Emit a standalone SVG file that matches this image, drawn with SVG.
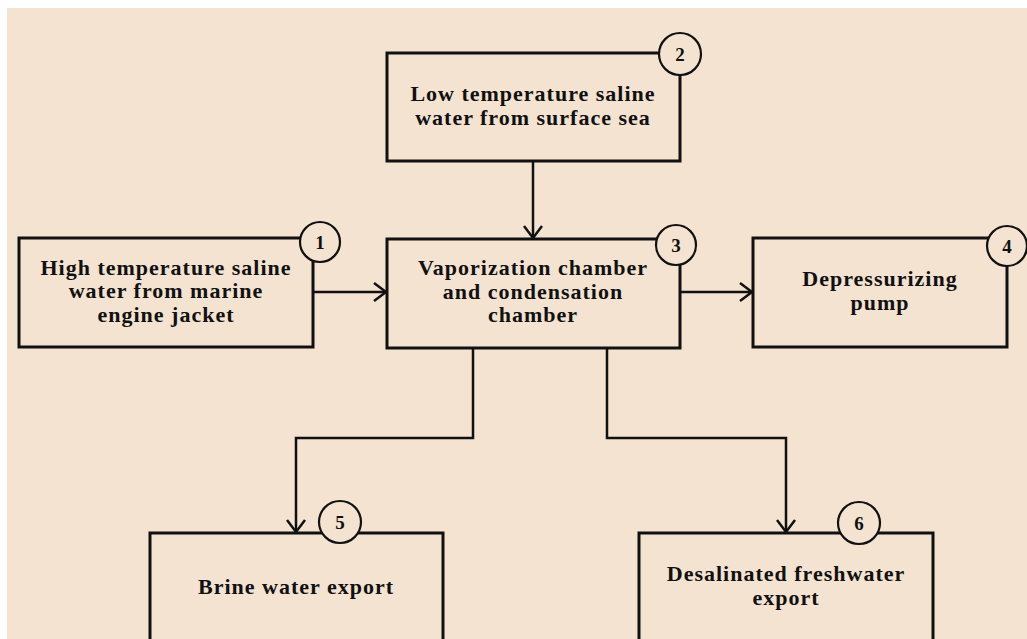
<svg xmlns="http://www.w3.org/2000/svg" width="1027" height="639" viewBox="0 0 1027 639">
<style>
.box{fill:none;stroke:#111;stroke-width:3}
.num{fill:#F4E3D0;stroke:#111;stroke-width:2.2}
.t{font-family:"Liberation Serif","Times New Roman",serif;font-weight:bold;font-size:22px;letter-spacing:1px;fill:#111;text-anchor:middle}
.n{font-family:"Liberation Serif","Times New Roman",serif;font-weight:bold;font-size:19px;fill:#111;text-anchor:middle}
.c{fill:none;stroke:#111;stroke-width:2.5}
</style>
<defs>
<marker id="ah" markerUnits="userSpaceOnUse" markerWidth="16" markerHeight="22" refX="13" refY="10" orient="auto" viewBox="0 0 16 22">
<path d="M1,1 L13,10 L1,19" fill="none" stroke="#111" stroke-width="2.5"/>
</marker>
</defs>
<rect width="1027" height="639" fill="#FFFFFF"/>
<rect x="7" y="8" width="1020" height="631" fill="#F4E3D0"/>
<g id="connectors">
<path class="c" d="M533,161 L533,238" marker-end="url(#ah)"/>
<path class="c" d="M313,292 L386,292" marker-end="url(#ah)"/>
<path class="c" d="M680,292 L752,292" marker-end="url(#ah)"/>
<path class="c" d="M473,348 L473,438 L296,438 L296,532" marker-end="url(#ah)"/>
<path class="c" d="M607,348 L607,438 L786,438 L786,532" marker-end="url(#ah)"/>
</g>
<g id="node2">
<rect class="box" x="387" y="53" width="293" height="108"/>
<circle class="num" cx="680" cy="54" r="21"/>
<text class="n" x="680" y="61">2</text>
<text class="t" x="533" y="101">Low temperature saline</text>
<text class="t" x="533" y="125">water from surface sea</text>
</g>
<g id="node1">
<rect class="box" x="19" y="238" width="294" height="109"/>
<circle class="num" cx="320" cy="242" r="20"/>
<text class="n" x="320" y="249">1</text>
<text class="t" x="166" y="275">High temperature saline</text>
<text class="t" x="166" y="298">water from marine</text>
<text class="t" x="166" y="322">engine jacket</text>
</g>
<g id="node3">
<rect class="box" x="387" y="239" width="293" height="109"/>
<circle class="num" cx="676" cy="245" r="20"/>
<text class="n" x="676" y="252">3</text>
<text class="t" x="533" y="275">Vaporization chamber</text>
<text class="t" x="533" y="299">and condensation</text>
<text class="t" x="533" y="322">chamber</text>
</g>
<g id="node4">
<rect class="box" x="753" y="238" width="254" height="109"/>
<circle class="num" cx="1007" cy="246" r="20"/>
<text class="n" x="1007" y="253">4</text>
<text class="t" x="880" y="286">Depressurizing</text>
<text class="t" x="880" y="310">pump</text>
</g>
<g id="node5">
<rect class="box" x="150" y="533" width="293" height="130"/>
<circle class="num" cx="340" cy="522" r="21"/>
<text class="n" x="340" y="529">5</text>
<text class="t" x="296" y="594">Brine water export</text>
</g>
<g id="node6">
<rect class="box" x="639" y="533" width="294" height="130"/>
<circle class="num" cx="859" cy="523" r="21"/>
<text class="n" x="859" y="530">6</text>
<text class="t" x="786" y="581">Desalinated freshwater</text>
<text class="t" x="786" y="605">export</text>
</g>
</svg>
